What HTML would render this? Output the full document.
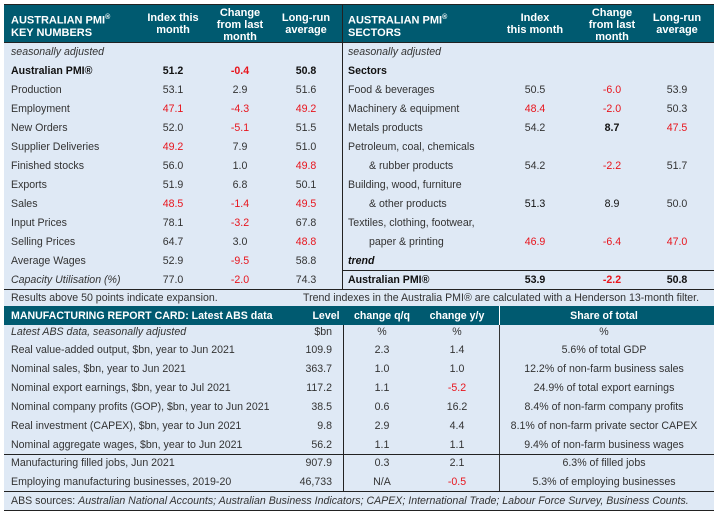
<!DOCTYPE html>
<html><head><meta charset="utf-8"><style>
body{margin:0;background:#fff;width:718px;height:516px;position:relative;font-family:"Liberation Sans",Arial,sans-serif;font-size:10.6px;color:#333;overflow:hidden}
#bg{position:absolute;left:4px;top:5px;width:710px;height:505px;background:#dfe9f5}
.h{position:absolute;background:#005a70;color:#fff;font-weight:bold}
.t{position:absolute;line-height:14px;white-space:nowrap}
.c{text-align:center;width:70px}
.rr{text-align:right}
.red{color:#e8141c}
.b{font-weight:bold}
.i{font-style:italic}
.k{color:#111}
.line{position:absolute;background:#222}
.hh{position:absolute;color:#fff;font-weight:bold;line-height:12px;text-align:center;font-size:11px}
</style></head><body>
<div id="bg"></div>
<div class="h" style="left:4px;top:5px;width:710px;height:37px"></div>
<div class="line" style="left:4px;top:4px;width:710px;height:1px"></div>
<div class="line" style="left:4px;top:42px;width:710px;height:1px"></div>
<div class="line" style="left:342px;top:5px;width:1px;height:284px"></div>
<div class="hh" style="left:11px;top:12px;text-align:left">AUSTRALIAN PMI<sup style="font-size:7px">®</sup><br>KEY NUMBERS</div>
<div class="hh" style="left:138px;top:12px;width:70px">Index this<br>month</div>
<div class="hh" style="left:205px;top:7px;width:70px">Change<br>from last<br>month</div>
<div class="hh" style="left:271px;top:12px;width:70px">Long-run<br>average</div>
<div class="hh" style="left:348px;top:12px;text-align:left">AUSTRALIAN PMI<sup style="font-size:7px">®</sup><br>SECTORS</div>
<div class="hh" style="left:500px;top:12px;width:70px">Index<br>this month</div>
<div class="hh" style="left:577px;top:7px;width:70px">Change<br>from last<br>month</div>
<div class="hh" style="left:642px;top:12px;width:70px">Long-run<br>average</div>

<div>
<div class="t i" style="left:11px;top:45px">seasonally adjusted</div>
<div class="t b k" style="left:11px;top:64px">Australian PMI®</div><div class="t c b k" style="left:138px;top:64px">51.2</div><div class="t c b red" style="left:205px;top:64px">-0.4</div><div class="t c b k" style="left:271px;top:64px">50.8</div>
<div class="t" style="left:11px;top:83px">Production</div><div class="t c" style="left:138px;top:83px">53.1</div><div class="t c" style="left:205px;top:83px">2.9</div><div class="t c" style="left:271px;top:83px">51.6</div>
<div class="t" style="left:11px;top:102px">Employment</div><div class="t c red" style="left:138px;top:102px">47.1</div><div class="t c red" style="left:205px;top:102px">-4.3</div><div class="t c red" style="left:271px;top:102px">49.2</div>
<div class="t" style="left:11px;top:121px">New Orders</div><div class="t c" style="left:138px;top:121px">52.0</div><div class="t c red" style="left:205px;top:121px">-5.1</div><div class="t c" style="left:271px;top:121px">51.5</div>
<div class="t" style="left:11px;top:140px">Supplier Deliveries</div><div class="t c red" style="left:138px;top:140px">49.2</div><div class="t c" style="left:205px;top:140px">7.9</div><div class="t c" style="left:271px;top:140px">51.0</div>
<div class="t" style="left:11px;top:159px">Finished stocks</div><div class="t c" style="left:138px;top:159px">56.0</div><div class="t c" style="left:205px;top:159px">1.0</div><div class="t c red" style="left:271px;top:159px">49.8</div>
<div class="t" style="left:11px;top:178px">Exports</div><div class="t c" style="left:138px;top:178px">51.9</div><div class="t c" style="left:205px;top:178px">6.8</div><div class="t c" style="left:271px;top:178px">50.1</div>
<div class="t" style="left:11px;top:197px">Sales</div><div class="t c red" style="left:138px;top:197px">48.5</div><div class="t c red" style="left:205px;top:197px">-1.4</div><div class="t c red" style="left:271px;top:197px">49.5</div>
<div class="t" style="left:11px;top:216px">Input Prices</div><div class="t c" style="left:138px;top:216px">78.1</div><div class="t c red" style="left:205px;top:216px">-3.2</div><div class="t c" style="left:271px;top:216px">67.8</div>
<div class="t" style="left:11px;top:235px">Selling Prices</div><div class="t c" style="left:138px;top:235px">64.7</div><div class="t c" style="left:205px;top:235px">3.0</div><div class="t c red" style="left:271px;top:235px">48.8</div>
<div class="t" style="left:11px;top:254px">Average Wages</div><div class="t c" style="left:138px;top:254px">52.9</div><div class="t c red" style="left:205px;top:254px">-9.5</div><div class="t c" style="left:271px;top:254px">58.8</div>
<div class="t i" style="left:11px;top:273px">Capacity Utilisation (%)</div><div class="t c" style="left:138px;top:273px">77.0</div><div class="t c red" style="left:205px;top:273px">-2.0</div><div class="t c" style="left:271px;top:273px">74.3</div>
</div>

<div>
<div class="t i" style="left:348px;top:45px">seasonally adjusted</div>
<div class="t b k" style="left:348px;top:64px">Sectors</div>
<div class="t" style="left:348px;top:83px">Food &amp; beverages</div><div class="t c" style="left:500px;top:83px">50.5</div><div class="t c red" style="left:577px;top:83px">-6.0</div><div class="t c" style="left:642px;top:83px">53.9</div>
<div class="t" style="left:348px;top:102px">Machinery &amp; equipment</div><div class="t c red" style="left:500px;top:102px">48.4</div><div class="t c red" style="left:577px;top:102px">-2.0</div><div class="t c" style="left:642px;top:102px">50.3</div>
<div class="t" style="left:348px;top:121px">Metals products</div><div class="t c" style="left:500px;top:121px">54.2</div><div class="t c b k" style="left:577px;top:121px">8.7</div><div class="t c red" style="left:642px;top:121px">47.5</div>
<div class="t" style="left:348px;top:140px">Petroleum, coal, chemicals</div>
<div class="t" style="left:369px;top:159px">&amp; rubber products</div><div class="t c" style="left:500px;top:159px">54.2</div><div class="t c red" style="left:577px;top:159px">-2.2</div><div class="t c" style="left:642px;top:159px">51.7</div>
<div class="t" style="left:348px;top:178px">Building, wood, furniture</div>
<div class="t" style="left:369px;top:197px">&amp; other products</div><div class="t c k" style="left:500px;top:197px">51.3</div><div class="t c k" style="left:577px;top:197px">8.9</div><div class="t c" style="left:642px;top:197px">50.0</div>
<div class="t" style="left:348px;top:216px">Textiles, clothing, footwear,</div>
<div class="t" style="left:369px;top:235px">paper &amp; printing</div><div class="t c red" style="left:500px;top:235px">46.9</div><div class="t c red" style="left:577px;top:235px">-6.4</div><div class="t c red" style="left:642px;top:235px">47.0</div>
<div class="t b i k" style="left:348px;top:254px">trend</div>
<div class="t b k" style="left:348px;top:273px">Australian PMI®</div><div class="t c b k" style="left:500px;top:273px">53.9</div><div class="t c b red" style="left:577px;top:273px">-2.2</div><div class="t c b k" style="left:642px;top:273px">50.8</div>
</div>
<div class="line" style="left:342px;top:270px;width:372px;height:1px"></div>
<div class="line" style="left:4px;top:289px;width:710px;height:1px"></div>
<div class="t" style="left:11px;top:291px">Results above 50 points indicate expansion.</div>
<div class="t" style="left:303px;top:291px">Trend indexes in the Australia PMI® are calculated with a Henderson 13-month filter.</div>

<div class="h" style="left:4px;top:306px;width:710px;height:19px"></div>
<div class="t" style="left:11px;top:309px;color:#fff;font-weight:bold">MANUFACTURING REPORT CARD: Latest ABS data</div>
<div class="t c" style="left:298px;top:309px;color:#fff;font-weight:bold;width:56px">Level</div>
<div class="t c" style="left:347px;top:309px;color:#fff;font-weight:bold">change q/q</div>
<div class="t c" style="left:422px;top:309px;color:#fff;font-weight:bold">change y/y</div>
<div class="t c" style="left:554px;top:309px;color:#fff;font-weight:bold;width:100px">Share of total</div>
<div class="line" style="left:343px;top:325px;width:1px;height:166px"></div>
<div class="line" style="left:499px;top:306px;width:1px;height:185px;background:#333"></div>
<div class="line" style="left:499px;top:306px;width:1px;height:19px;background:#fff"></div>

<div>
<div class="t i" style="left:11px;top:325px">Latest ABS data, seasonally adjusted</div><div class="t rr" style="left:280px;width:52px;top:325px">$bn</div><div class="t c" style="left:347px;top:325px">%</div><div class="t c" style="left:422px;top:325px">%</div><div class="t c" style="left:504px;width:200px;top:325px">%</div>
<div class="t" style="left:11px;top:343px">Real value-added output, $bn, year to Jun 2021</div><div class="t rr" style="left:280px;width:52px;top:343px">109.9</div><div class="t c" style="left:347px;top:343px">2.3</div><div class="t c" style="left:422px;top:343px">1.4</div><div class="t c" style="left:504px;width:200px;top:343px">5.6% of total GDP</div>
<div class="t" style="left:11px;top:362px">Nominal sales, $bn, year to Jun 2021</div><div class="t rr" style="left:280px;width:52px;top:362px">363.7</div><div class="t c" style="left:347px;top:362px">1.0</div><div class="t c" style="left:422px;top:362px">1.0</div><div class="t c" style="left:504px;width:200px;top:362px">12.2% of non-farm business sales</div>
<div class="t" style="left:11px;top:381px">Nominal export earnings, $bn, year to Jul 2021</div><div class="t rr" style="left:280px;width:52px;top:381px">117.2</div><div class="t c" style="left:347px;top:381px">1.1</div><div class="t c red" style="left:422px;top:381px">-5.2</div><div class="t c" style="left:504px;width:200px;top:381px">24.9% of total export earnings</div>
<div class="t" style="left:11px;top:400px">Nominal company profits (GOP), $bn, year to Jun 2021</div><div class="t rr" style="left:280px;width:52px;top:400px">38.5</div><div class="t c" style="left:347px;top:400px">0.6</div><div class="t c" style="left:422px;top:400px">16.2</div><div class="t c" style="left:504px;width:200px;top:400px">8.4% of non-farm company profits</div>
<div class="t" style="left:11px;top:419px">Real investment (CAPEX), $bn, year to Jun 2021</div><div class="t rr" style="left:280px;width:52px;top:419px">9.8</div><div class="t c" style="left:347px;top:419px">2.9</div><div class="t c" style="left:422px;top:419px">4.4</div><div class="t c" style="left:504px;width:200px;top:419px">8.1% of non-farm private sector CAPEX</div>
<div class="t" style="left:11px;top:438px">Nominal aggregate wages, $bn, year to Jun 2021</div><div class="t rr" style="left:280px;width:52px;top:438px">56.2</div><div class="t c" style="left:347px;top:438px">1.1</div><div class="t c" style="left:422px;top:438px">1.1</div><div class="t c" style="left:504px;width:200px;top:438px">9.4% of non-farm business wages</div>
<div class="t" style="left:11px;top:456px">Manufacturing filled jobs, Jun 2021</div><div class="t rr" style="left:280px;width:52px;top:456px">907.9</div><div class="t c" style="left:347px;top:456px">0.3</div><div class="t c" style="left:422px;top:456px">2.1</div><div class="t c" style="left:504px;width:200px;top:456px">6.3% of filled jobs</div>
<div class="t" style="left:11px;top:475px">Employing manufacturing businesses, 2019-20</div><div class="t rr" style="left:280px;width:52px;top:475px">46,733</div><div class="t c" style="left:347px;top:475px">N/A</div><div class="t c red" style="left:422px;top:475px">-0.5</div><div class="t c" style="left:504px;width:200px;top:475px">5.3% of employing businesses</div>
</div>
<div class="line" style="left:4px;top:454px;width:710px;height:1px"></div>
<div class="line" style="left:4px;top:491px;width:710px;height:1px"></div>
<div class="t" style="left:11px;top:494px">ABS sources: <i>Australian National Accounts; Australian Business Indicators; CAPEX; International Trade; Labour Force Survey, Business Counts.</i></div>
<div class="line" style="left:4px;top:510px;width:710px;height:1px"></div>
</body></html>
